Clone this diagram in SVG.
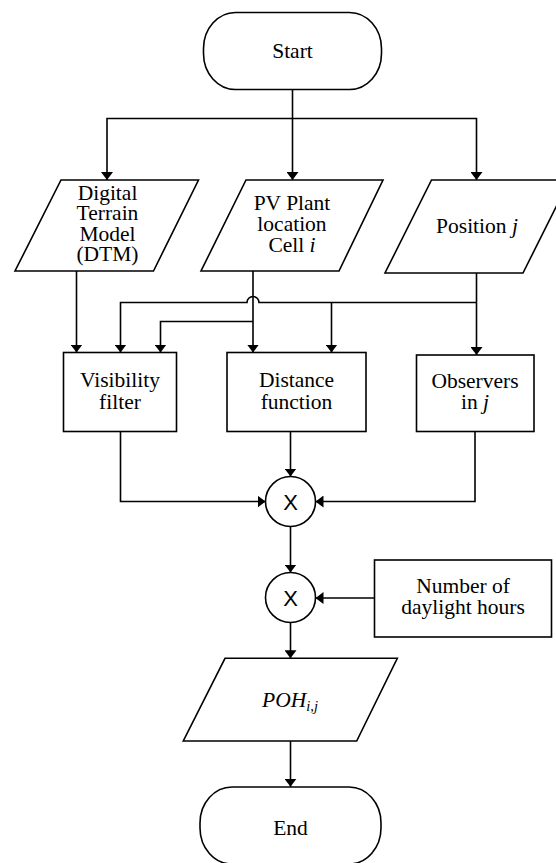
<svg xmlns="http://www.w3.org/2000/svg" width="556" height="863" viewBox="0 0 556 863">
<style>
.s{fill:#fff;stroke:#000;stroke-width:1.6}
.t{font-family:"Liberation Serif","Times New Roman",serif;font-size:21.5px;fill:#000;text-anchor:middle}
.x{font-family:"Liberation Sans",Arial,sans-serif;font-size:22px;fill:#000;text-anchor:middle}
.c{fill:none;stroke:#000;stroke-width:1.6;marker-end:url(#ah)}
.n{fill:none;stroke:#000;stroke-width:1.6}
.i{font-style:italic}
</style>
<defs>
<marker id="ah" viewBox="0 0 10 10" refX="10" refY="5" markerWidth="8" markerHeight="12" markerUnits="userSpaceOnUse" orient="auto" preserveAspectRatio="none">
<path d="M0,0 L10,5 L0,10 z" fill="#000"/>
</marker>
</defs>
<rect width="556" height="863" fill="#fff"/>
<g id="connectors">
<path class="c" d="M292.5,89.5 V180"/>
<path class="c" d="M292.5,118.5 H107 V180"/>
<path class="c" d="M292.5,118.5 H476.5 V180"/>
<path class="c" d="M76.5,271 V352.5"/>
<path class="c" d="M253,271 V352.5"/>
<path class="c" d="M253,321.5 H160.5 V352.5"/>
<path class="c" d="M476.5,273 V355"/>
<path class="c" d="M476.5,302.5 H259 A6,6 0 0 0 247,302.5 H120.5 V352.5"/>
<path class="c" d="M331.5,302.5 V352.5"/>
<path class="c" d="M120.5,431.5 V501.5 H265.5"/>
<path class="c" d="M290.5,431.5 V476.5"/>
<path class="c" d="M475,431.5 V501.5 H315.5"/>
<path class="c" d="M290.5,526.5 V572.5"/>
<path class="c" d="M374.5,598 H315.5"/>
<path class="c" d="M290.5,622.5 V658.3"/>
<path class="c" d="M290.5,741 V786.8"/>
</g>
<g id="start">
<rect class="s" x="203.5" y="12.5" width="178" height="77" rx="32" ry="36"/>
<text class="t" x="292.5" y="58">Start</text>
</g>
<g id="dtm">
<polygon class="s" points="61,180 198.5,180 153.5,271 15,271"/>
<text class="t" x="107.5" y="199.5">Digital</text>
<text class="t" x="107.5" y="220">Terrain</text>
<text class="t" x="107.5" y="240.5">Model</text>
<text class="t" x="107.5" y="261">(DTM)</text>
</g>
<g id="pvplant">
<polygon class="s" points="246,180 383,180 339,271 201,271"/>
<text class="t" x="292" y="210">PV Plant</text>
<text class="t" x="292" y="231">location</text>
<text class="t" x="292" y="252">Cell <tspan class="i">i</tspan></text>
</g>
<g id="position">
<polygon class="s" points="431.5,180 569.5,180 523,273 385,273"/>
<text class="t" x="477" y="233">Position <tspan class="i">j</tspan></text>
</g>
<g id="visibility">
<rect class="s" x="63.5" y="352.5" width="113" height="79"/>
<text class="t" x="120" y="387">Visibility</text>
<text class="t" x="120" y="408.5">filter</text>
</g>
<g id="distance">
<rect class="s" x="227" y="352.5" width="139" height="79"/>
<text class="t" x="296.5" y="387">Distance</text>
<text class="t" x="296.5" y="408.5">function</text>
</g>
<g id="observers">
<rect class="s" x="416.5" y="355" width="117.5" height="76.5"/>
<text class="t" x="475" y="387.5">Observers</text>
<text class="t" x="475" y="408.5">in <tspan class="i">j</tspan></text>
</g>
<g id="mult1">
<circle class="s" cx="290.5" cy="501.5" r="25"/>
<text class="x" x="290.5" y="509.5">X</text>
</g>
<g id="mult2">
<circle class="s" cx="290.5" cy="597.5" r="25"/>
<text class="x" x="290.5" y="605.5">X</text>
</g>
<g id="daylight">
<rect class="s" x="374.5" y="560" width="177" height="77"/>
<text class="t" x="463" y="592.5">Number of</text>
<text class="t" x="463" y="613.5">daylight hours</text>
</g>
<g id="poh">
<polygon class="s" points="225,658.3 397.3,658.3 356.7,741 183.3,741"/>
<text class="t i" x="290" y="707">POH<tspan font-size="14.5px" dy="4">i,j</tspan></text>
</g>
<g id="end">
<rect class="s" x="200" y="787" width="181" height="77" rx="32" ry="36"/>
<text class="t" x="290.5" y="835">End</text>
</g>
</svg>
